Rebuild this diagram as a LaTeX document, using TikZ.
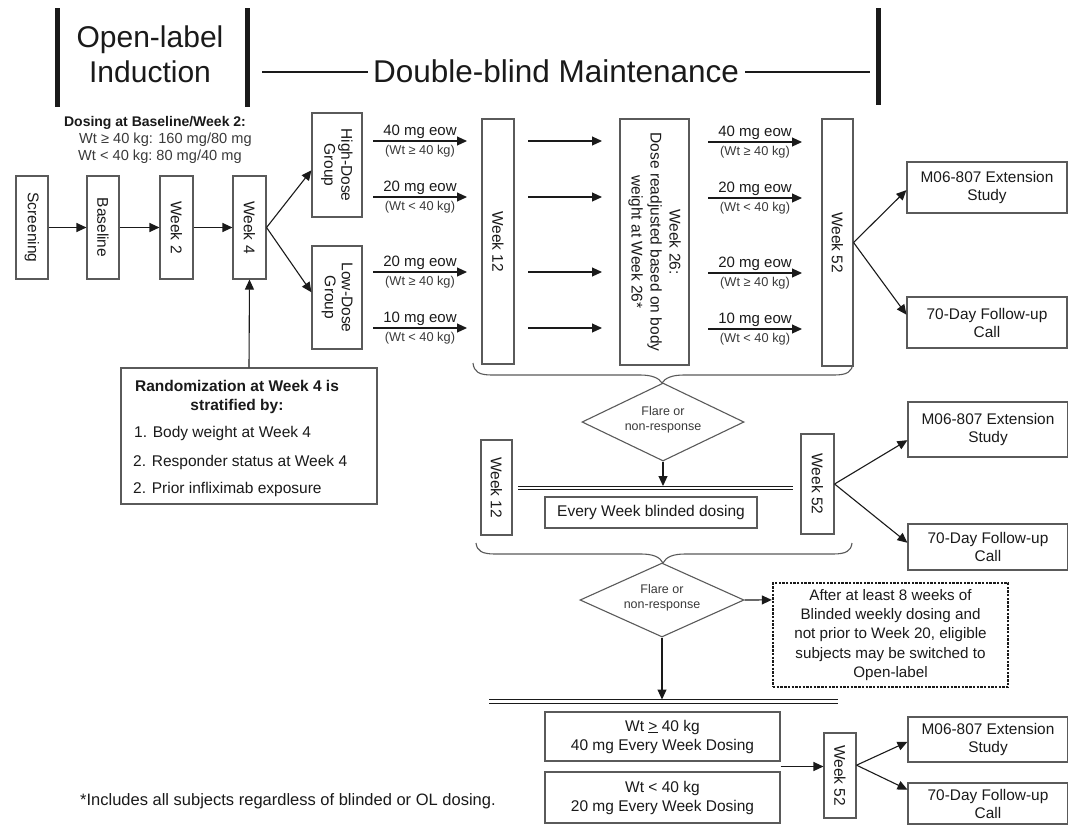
\documentclass[tikz,border=0pt]{standalone}
\usepackage{fontspec}
\setmainfont{Liberation Sans}
\usetikzlibrary{arrows.meta,shapes.geometric,calc}
\definecolor{boxc}{HTML}{5A5A5A}
\definecolor{ink}{HTML}{1A1A1A}
\definecolor{soft}{HTML}{3A3A3A}
\newcommand{\fs}[2]{\fontsize{#1}{#2}\selectfont}
\tikzset{
  box/.style={draw=boxc, line width=1.1pt, inner sep=0pt, fill=white},
  arr/.style={draw=ink, line width=1.1pt, -{Triangle[length=10pt,width=9pt]}},
  ln/.style={draw=ink, line width=1.1pt},
  bar/.style={draw=ink, line width=5pt},
  rot/.style={rotate=-90, align=center, text=ink, inner sep=0pt, font=\fs{15.5}{19}},
  txt/.style={text=ink, inner sep=0pt, align=center, font=\fs{15.5}{19}},
  lbl/.style={text=ink, inner sep=1.5pt, font=\fs{15}{18}},
  slbl/.style={text=soft, inner sep=1.5pt, font=\fs{12.8}{14}},
  head/.style={text=ink, inner sep=0pt, font=\fs{30}{36}},
  dbl/.style={draw=ink, line width=1pt, double=white, double distance=2.6pt},
  brc/.style={draw=boxc, line width=1.1pt},
  dia/.style={diamond, draw=boxc, line width=1.1pt, inner sep=0pt, fill=white},
  diat/.style={text=soft, align=center, inner sep=0pt, font=\fs{12.5}{15}},
  dots/.style={draw=ink, line width=2.4pt, dash pattern=on 2.4pt off 1.3pt, inner sep=0pt},
  endbox/.style={text=ink, inner sep=0pt, align=center, font=\fs{15.4}{18}},
}
\newcommand{\dosearr}[6]{%
  \coordinate (#1s) at (#2,#4);
  \coordinate (#1e) at (#3,#4);
  \draw[arr] (#1s) -- node[above, lbl] (#1t) {#5} node[below=2.5pt, slbl] (#1b) {#6} (#1e);}
\newcommand{\plainarr}[4]{%
  \coordinate (#1s) at (#2,#4);
  \coordinate (#1e) at (#3,#4);
  \draw[arr] (#1s) -- (#1e);}
\begin{document}
\begin{tikzpicture}[x=1pt,y=-1pt]
\useasboundingbox (0,0) rectangle (1068,825);
\fill[white] (0,0) rectangle (1068,825);

% ---------- header ----------
\coordinate (b1t) at (57,8); \coordinate (b1b) at (57,107);
\draw[bar] (b1t) -- (b1b);
\coordinate (b2t) at (247,8); \coordinate (b2b) at (247,107);
\draw[bar] (b2t) -- (b2b);
\coordinate (b3t) at (878,8); \coordinate (b3b) at (878,105);
\draw[bar] (b3t) -- (b3b);
\node[head, anchor=base] (ol) at (150,47) {Open-label};
\node[head, anchor=base] (ind) at (150,82) {Induction};
\node[head, anchor=base, font=\fs{31.5}{36}] (dbm) at (556,82) {Double-blind Maintenance};
\coordinate (h1) at (262,72); \coordinate (h1e) at (368,72);
\draw[ln] (h1) -- (h1e);
\coordinate (h2) at (745,72); \coordinate (h2e) at (870,72);
\draw[ln] (h2) -- (h2e);

\node[txt, anchor=base, font=\fs{14}{17}\bfseries] (dos1) at (155,126) {Dosing at Baseline/Week 2:};
\node[txt, anchor=base west, text=soft, font=\fs{14.6}{16}] (dos2) at (79,143) {Wt ≥ 40 kg: 160 mg/80 mg};
\node[txt, anchor=base west, text=soft, font=\fs{14.6}{16}] (dos3) at (78,160) {Wt < 40 kg:\hspace{4pt}80 mg/40 mg};

% ---------- first row ----------
\node[box, minimum width=32pt, minimum height=103pt] (scr) at (32,227.5) {};
\node[rot] (scrt) at (scr.center) {Screening};
\node[box, minimum width=32pt, minimum height=103pt] (bas) at (103,227.5) {};
\node[rot] (bast) at (bas.center) {Baseline};
\node[box, minimum width=33pt, minimum height=103pt] (wk2) at (176.5,227.5) {};
\node[rot] (wk2t) at (wk2.center) {Week 2};
\node[box, minimum width=33pt, minimum height=103pt] (w4) at (249.5,227.5) {};
\node[rot] (w4t) at (w4.center) {Week 4};
\draw[arr] (scr.east) -- (bas.west);
\draw[arr] (bas.east) -- (wk2.west);
\draw[arr] (wk2.east) -- (w4.west);

\node[box, minimum width=50pt, minimum height=104pt] (hd) at (337,165) {};
\node[rot, font=\fs{15.5}{17}] (hdt) at (hd.center) {High-Dose\\Group};
\node[box, minimum width=50pt, minimum height=103pt] (ld) at (337,297.5) {};
\node[rot, font=\fs{15.5}{17}] (ldt) at (ld.center) {Low-Dose\\Group};
\draw[arr] (w4.east) -- ($(hd.north west)!0.55!(hd.south west)$);
\draw[arr] (w4.east) -- ($(ld.north west)!0.45!(ld.south west)$);

\dosearr{a1}{373}{467}{141}{40 mg eow}{(Wt ≥ 40 kg)}
\dosearr{a2}{373}{467}{197}{20 mg eow}{(Wt < 40 kg)}
\dosearr{a3}{373}{467}{272}{20 mg eow}{(Wt ≥ 40 kg)}
\dosearr{a4}{373}{467}{328}{10 mg eow}{(Wt < 40 kg)}

\node[box, minimum width=32pt, minimum height=245pt] (w12) at (498,241.5) {};
\node[rot] (w12t) at (w12.center) {Week 12};

\plainarr{m1}{528}{602}{141}
\plainarr{m2}{528}{602}{197}
\plainarr{m3}{528}{602}{272}
\plainarr{m4}{528}{602}{328}

\node[box, minimum width=69pt, minimum height=246pt] (w26) at (654.5,242) {};
\node[rot] (w26t) at (w26.center) {Week 26:\\Dose readjusted based on body\\weight at Week 26*};

\dosearr{c1}{708}{802}{142}{40 mg eow}{(Wt ≥ 40 kg)}
\dosearr{c2}{708}{802}{198}{20 mg eow}{(Wt < 40 kg)}
\dosearr{c3}{708}{802}{273}{20 mg eow}{(Wt ≥ 40 kg)}
\dosearr{c4}{708}{802}{329}{10 mg eow}{(Wt < 40 kg)}

\node[box, minimum width=31pt, minimum height=247pt] (w52) at (837.5,242.5) {};
\node[rot] (w52t) at (w52.center) {Week 52};

\node[box, minimum width=160pt, minimum height=51pt] (ext1) at (987,187.5) {};
\node[endbox] (ext1t) at (ext1.center) {M06-807 Extension\\Study};
\node[box, minimum width=160pt, minimum height=51pt] (fu1) at (987,322.5) {};
\node[endbox] (fu1t) at (fu1.center) {70-Day Follow-up\\Call};
\draw[arr] (w52.east) -- ($(ext1.north west)!0.55!(ext1.south west)$);
\draw[arr] (w52.east) -- ($(fu1.north west)!0.35!(fu1.south west)$);

% ---------- randomization ----------
\node[box, minimum width=256pt, minimum height=136pt] (rand) at (249,436) {};
\node[txt, anchor=base, font=\fs{15.5}{19}\bfseries] (r1) at (237,391.5) {Randomization at Week 4 is};
\node[txt, anchor=base, font=\fs{15.5}{19}\bfseries] (r2) at (237,410.5) {stratified by:};
\node[txt, anchor=base west] (r3) at (134,437.5) {1. Body weight at Week 4};
\node[txt, anchor=base west] (r4) at (133,466.5) {2. Responder status at Week 4};
\node[txt, anchor=base west] (r5) at (133,493.5) {2. Prior infliximab exposure};
\draw[arr] (rand.north) -- (w4.south);

% ---------- brace 1 and first flare ----------
\draw[brc] (473,363) .. controls (474,372) and (479,375) .. (492,375) -- (640,375)
  .. controls (652,375) and (659,378) .. (662,383)
  .. controls (665,378) and (672,375) .. (684,375) -- (834,375)
  .. controls (847,375) and (852,372) .. (853,363);
\node[dia, minimum width=162pt, minimum height=78pt] (dia1) at (663,422) {};
\node[diat] (dia1t) at (663,420) {Flare or\\non-response};
\coordinate (dl2l) at (518,488); \coordinate (dl2r) at (793,488);
\draw[dbl] (dl2l) -- (dl2r);
\coordinate (dl2top) at (663,486);
\draw[arr] (dia1.south) -- (dl2top);

\node[box, minimum width=31pt, minimum height=95pt] (w12b) at (496.5,487.5) {};
\node[rot] (w12bt) at (w12b.center) {Week 12};
\node[box, minimum width=33pt, minimum height=100pt] (w52b) at (817.5,484) {};
\node[rot] (w52bt) at (w52b.center) {Week 52};
\node[box, minimum width=212pt, minimum height=31pt] (ewb) at (651,512.5) {};
\node[txt] (ewbt) at (ewb.center) {Every Week blinded dosing};

\node[box, minimum width=160pt, minimum height=55pt] (ext2) at (988,429.5) {};
\node[endbox] (ext2t) at (ext2.center) {M06-807 Extension\\Study};
\node[box, minimum width=160pt, minimum height=46pt] (fu2) at (988,547) {};
\node[endbox] (fu2t) at (fu2.center) {70-Day Follow-up\\Call};
\draw[arr] (w52b.east) -- ($(ext2.north west)!0.69!(ext2.south west)$);
\draw[arr] (w52b.east) -- ($(fu2.north west)!0.41!(fu2.south west)$);

% ---------- brace 2 and second flare ----------
\draw[brc] (476,543) .. controls (477,551) and (482,554) .. (495,554) -- (641,554)
  .. controls (653,554) and (660,557) .. (663,563)
  .. controls (666,557) and (673,554) .. (685,554) -- (833,554)
  .. controls (846,554) and (851,551) .. (852,543);
\node[dia, minimum width=164pt, minimum height=74pt] (dia2) at (662,600) {};
\node[diat] (dia2t) at (662,598) {Flare or\\non-response};
\node[dots, minimum width=235pt, minimum height=104pt] (dot) at (890.5,635) {};
\node[txt, font=\fs{15.2}{19.25}] (dott) at (dot.center) {After at least 8 weeks of\\Blinded weekly dosing and\\not prior to Week 20, eligible\\subjects may be switched to\\Open-label};
\draw[arr] (dia2.east) -- ($(dot.north west)!0.17!(dot.south west)$);

\coordinate (dl3l) at (489,701.5); \coordinate (dl3r) at (838,701.5);
\draw[dbl] (dl3l) -- (dl3r);
\coordinate (dl3top) at (662,699.5);
\draw[arr] (dia2.south) -- (dl3top);

\node[box, minimum width=235pt, minimum height=49pt] (wt1) at (662.5,736.5) {};
\node[txt] (wt1t) at (wt1.center) {Wt \underline{>} 40 kg\\40 mg Every Week Dosing};
\node[box, minimum width=235pt, minimum height=51pt] (wt2) at (662.5,797.5) {};
\node[txt] (wt2t) at (wt2.center) {Wt < 40 kg\\20 mg Every Week Dosing};

\node[box, minimum width=32pt, minimum height=85pt] (w52c) at (840,775.5) {};
\node[rot] (w52ct) at (w52c.center) {Week 52};
\coordinate (wtm) at ($(wt1.south east)!0.5!(wt2.north east)$);
\draw[arr] (wtm) -- (wtm -| w52c.west);

\node[box, minimum width=160pt, minimum height=45pt] (ext3) at (988,739.5) {};
\node[endbox] (ext3t) at (ext3.center) {M06-807 Extension\\Study};
\node[box, minimum width=160pt, minimum height=41pt] (fu3) at (988,803.5) {};
\node[endbox] (fu3t) at (fu3.center) {70-Day Follow-up\\Call};
\coordinate (w52cx) at ($(w52c.north east)!0.38!(w52c.south east)$);
\draw[arr] (w52cx) -- ($(ext3.north west)!0.55!(ext3.south west)$);
\draw[arr] (w52cx) -- ($(fu3.north west)!0.17!(fu3.south west)$);

% ---------- footnote ----------
\node[txt, anchor=base west, font=\fs{16.5}{20}] (fn) at (80,805) {*Includes all subjects regardless of blinded or OL dosing.};
\end{tikzpicture}
\end{document}
